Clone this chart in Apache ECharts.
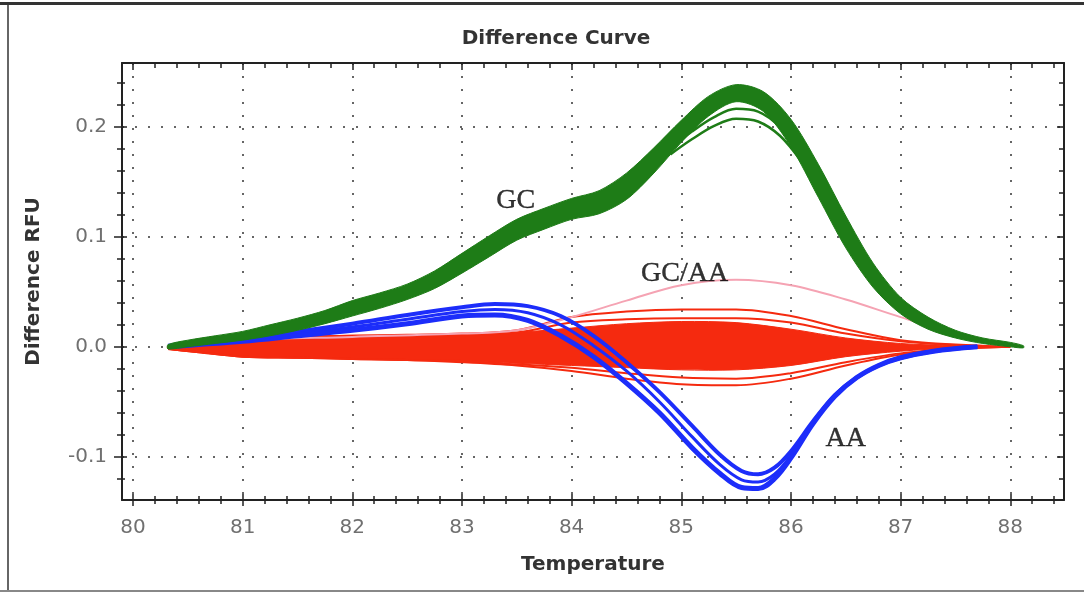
<!DOCTYPE html>
<html><head><meta charset="utf-8">
<script src="https://cdn.jsdelivr.net/npm/echarts@6/dist/echarts.min.js"></script>
<style>html,body{margin:0;padding:0;background:#fff}#c{width:1084px;height:594px}</style>
</head><body><div id="c"></div>
<script>
// ---- tick labels ----
const xTicks = [80, 81, 82, 83, 84, 85, 86, 87, 88];
const yTicks = [-0.1, 0.0, 0.1, 0.2];

// ---- GC (green) band: upper / lower envelope ----
const gcT     = [80.32, 80.5, 80.75, 81, 81.25, 81.5, 81.75, 82, 82.25, 82.5, 82.75, 83, 83.25, 83.5, 83.75, 84, 84.25, 84.5, 84.75, 85, 85.25, 85.5, 85.75, 86, 86.25, 86.5, 86.75, 87, 87.25, 87.5, 87.75, 88, 88.12];
const gcUpper = [0.002, 0.006, 0.010, 0.014, 0.020, 0.026, 0.033, 0.042, 0.049, 0.057, 0.069, 0.085, 0.101, 0.116, 0.126, 0.135, 0.142, 0.158, 0.181, 0.206, 0.228, 0.2385, 0.232, 0.207, 0.166, 0.119, 0.076, 0.045, 0.027, 0.015, 0.008, 0.004, 0.001];
const gcLower = [-0.002, 0.000, 0.003, 0.006, 0.010, 0.015, 0.021, 0.028, 0.035, 0.043, 0.053, 0.067, 0.082, 0.097, 0.107, 0.116, 0.121, 0.134, 0.158, 0.186, 0.210, 0.223, 0.214, 0.182, 0.136, 0.090, 0.054, 0.030, 0.016, 0.008, 0.003, 0.000, -0.001];
// two GC curves that separate below the band near the peak
const gcLowT  = [84.9, 85.1, 85.3, 85.5, 85.7, 85.9, 86.1, 86.3];
const gcLow1  = [0.180, 0.196, 0.209, 0.2165, 0.214, 0.200, 0.175, 0.143];
const gcLow2  = [0.175, 0.189, 0.201, 0.2075, 0.205, 0.192, 0.168, 0.137];

// ---- AA (blue) curves ----
const aaT   = [80.32, 80.6, 81, 81.5, 82, 82.5, 83, 83.3, 83.6, 83.9, 84.2, 84.5, 84.8, 85.1, 85.35, 85.55, 85.7, 85.85, 86, 86.2, 86.4, 86.6, 86.8, 87, 87.3, 87.7];
const aaTop = [0.001, 0.004, 0.008, 0.014, 0.021, 0.029, 0.036, 0.039, 0.037, 0.028, 0.010, -0.014, -0.041, -0.072, -0.098, -0.113, -0.116, -0.110, -0.095, -0.068, -0.044, -0.028, -0.017, -0.010, -0.004, 0.000];
const aaMid = [0.001, 0.003, 0.007, 0.012, 0.018, 0.025, 0.032, 0.034, 0.031, 0.020, 0.001, -0.022, -0.050, -0.082, -0.107, -0.121, -0.123, -0.116, -0.099, -0.070, -0.045, -0.028, -0.017, -0.010, -0.004, 0.000];
const aaBot = [0.000, 0.002, 0.005, 0.010, 0.015, 0.021, 0.028, 0.029, 0.024, 0.010, -0.009, -0.033, -0.060, -0.092, -0.115, -0.128, -0.129, -0.120, -0.101, -0.070, -0.045, -0.028, -0.017, -0.010, -0.004, 0.000];

// ---- GC/AA (red) fan ----
const redT      = [80.32, 80.6, 81, 81.5, 82, 82.5, 83, 83.5, 84, 84.5, 85, 85.5, 86, 86.5, 87, 87.5, 88];
const redCoreUp = [0.001, 0.004, 0.008, 0.009, 0.010, 0.010, 0.011, 0.013, 0.017, 0.021, 0.023, 0.022, 0.016, 0.008, 0.003, 0.001, 0.000];
const redCoreLo = [-0.002, -0.005, -0.009, -0.010, -0.011, -0.012, -0.013, -0.015, -0.017, -0.019, -0.021, -0.021, -0.017, -0.009, -0.004, -0.001, 0.000];
const redTop1   = [0.001, 0.004, 0.008, 0.009, 0.010, 0.011, 0.012, 0.015, 0.027, 0.032, 0.034, 0.034, 0.028, 0.016, 0.006, 0.002, 0.000];
const redTop2   = [0.001, 0.004, 0.008, 0.009, 0.010, 0.010, 0.011, 0.013, 0.022, 0.025, 0.026, 0.026, 0.022, 0.012, 0.005, 0.0015, 0.000];
const redBot1   = [-0.002, -0.005, -0.009, -0.010, -0.011, -0.012, -0.014, -0.017, -0.022, -0.029, -0.034, -0.035, -0.029, -0.017, -0.007, -0.002, 0.000];
const redBot2   = [-0.002, -0.005, -0.009, -0.010, -0.011, -0.012, -0.013, -0.016, -0.019, -0.024, -0.028, -0.029, -0.024, -0.014, -0.006, -0.002, 0.000];

// ---- single pink curve ----
const pinkT = [80.32, 81, 82, 83, 83.5, 84, 84.5, 85, 85.5, 86, 86.5, 87, 87.5, 88];
const pinkV = [0.000, 0.006, 0.009, 0.012, 0.015, 0.027, 0.042, 0.056, 0.061, 0.056, 0.043, 0.027, 0.012, 0.002];

// ---- annotations ----
const noteText = ['GC', 'GC/AA', 'AA'];
const noteT    = [83.49, 85.03, 86.5];
const noteV    = [0.133, 0.067, -0.084];

// ---------------------------------------------------------------
const X_MIN = 79.9, X_MAX = 88.49, Y_MIN = -0.1394, Y_MAX = 0.2582;
const GREEN = '#1e7c17', BLUE = '#1c2dfa', RED = '#f52a0f', PINK = '#f5a3b3';
const FONT = 'DejaVu Sans';

const xMinor = [];
for (let i = 0; i <= 43; i++) { const v = Math.round((80 + i * 0.2) * 10) / 10; if (i % 5 !== 0 && v < X_MAX) xMinor.push(v); }
const yMinor = [];
for (let i = -6; i <= 12; i++) { if (i % 5 !== 0) yMinor.push(Math.round(i * 2) / 100); }

const zip = (T, V) => T.map((t, i) => [t, V[i]]);

function baseAxis(dim, extra) {
  const a = {
    type: 'value', gridIndex: 0,
    min: dim === 'x' ? X_MIN : Y_MIN, max: dim === 'x' ? X_MAX : Y_MAX,
    axisLine: { show: false, onZero: false },
    axisTick: { show: false },
    axisLabel: { show: false },
    splitLine: { show: false }
  };
  return Object.assign(a, extra);
}
const tickStyle = { color: '#222', width: 1.5 };
const dotted = { color: '#666', width: 2, type: [2, 11] };

const xAxes = [
  baseAxis('x', {
    position: 'bottom', splitNumber: 9,
    axisLine: { show: true, onZero: false, lineStyle: { color: '#222', width: 2 } },
    axisLabel: { show: true, customValues: xTicks, margin: 18, fontFamily: FONT, fontSize: 20, color: '#707070', formatter: v => String(v) },
    splitLine: { show: true, lineStyle: dotted },
    name: 'Temperature', nameLocation: 'middle', nameGap: 55,
    nameTextStyle: { fontFamily: FONT, fontWeight: 'bold', fontSize: 20, color: '#333' }
  }),
  baseAxis('x', { position: 'bottom', offset: -6, axisTick: { show: true, customValues: xTicks, length: 12, lineStyle: tickStyle } }),
  baseAxis('x', { position: 'bottom', offset: -4, axisTick: { show: true, customValues: xMinor, length: 8, lineStyle: tickStyle } }),
  baseAxis('x', { position: 'top', axisLine: { show: true, onZero: false, lineStyle: { color: '#222', width: 2 } },
    axisTick: { show: true, inside: true, customValues: xTicks, length: 7, lineStyle: tickStyle } }),
  baseAxis('x', { position: 'top', axisTick: { show: true, inside: true, customValues: xMinor, length: 5, lineStyle: tickStyle } })
];
const yAxes = [
  baseAxis('y', {
    position: 'left', splitNumber: 4,
    axisLine: { show: true, onZero: false, lineStyle: { color: '#222', width: 2 } },
    axisLabel: { show: true, customValues: yTicks, margin: 15, fontFamily: FONT, fontSize: 20, color: '#707070', formatter: v => v.toFixed(1) },
    splitLine: { show: true, lineStyle: dotted },
    name: 'Difference RFU', nameLocation: 'middle', nameGap: 78,
    nameTextStyle: { fontFamily: FONT, fontWeight: 'bold', fontSize: 20, color: '#333' }
  }),
  baseAxis('y', { position: 'left', offset: -5, axisTick: { show: true, customValues: yTicks, length: 13, lineStyle: tickStyle } }),
  baseAxis('y', { position: 'left', offset: -3, axisTick: { show: true, customValues: yMinor, length: 8, lineStyle: tickStyle } }),
  baseAxis('y', { position: 'right', axisLine: { show: true, onZero: false, lineStyle: { color: '#222', width: 2 } },
    axisTick: { show: true, inside: true, customValues: yTicks, length: 7, lineStyle: tickStyle } }),
  baseAxis('y', { position: 'right', axisTick: { show: true, inside: true, customValues: yMinor, length: 5, lineStyle: tickStyle } })
];

function band(name, T, up, lo, color, z) {
  return {
    type: 'custom', name, xAxisIndex: 0, yAxisIndex: 0, z, silent: true, animation: false,
    data: [[T[0], up[0]]],
    renderItem(params, api) {
      const pts = [];
      for (let i = 0; i < T.length; i++) pts.push(api.coord([T[i], up[i]]));
      for (let i = T.length - 1; i >= 0; i--) pts.push(api.coord([T[i], lo[i]]));
      return { type: 'polygon', shape: { points: pts, smooth: 0.3 }, style: { fill: color, stroke: color, lineWidth: 1 } };
    }
  };
}
function curve(name, T, V, color, width, z) {
  return {
    type: 'line', name, xAxisIndex: 0, yAxisIndex: 0, data: zip(T, V),
    symbol: 'none', showSymbol: false, smooth: 0.35, z, silent: true, animation: false,
    lineStyle: { color, width }
  };
}

const series = [
  band('GC/AA core', redT, redCoreUp, redCoreLo, RED, 2),
  curve('GC/AA 1', redT, redTop1, RED, 2, 2),
  curve('GC/AA 2', redT, redTop2, RED, 2, 2),
  curve('GC/AA 3', redT, redBot1, RED, 2, 2),
  curve('GC/AA 4', redT, redBot2, RED, 2, 2),
  curve('GC/AA pink', pinkT, pinkV, PINK, 2, 3),
  curve('AA 1', aaT, aaTop, BLUE, 4, 4),
  curve('AA 2', aaT, aaMid, BLUE, 3, 4),
  curve('AA 3', aaT, aaBot, BLUE, 5, 4),
  curve('GC low 1', gcLowT, gcLow1, GREEN, 2.5, 5),
  curve('GC low 2', gcLowT, gcLow2, GREEN, 2.5, 5),
  band('GC', gcT, gcUpper, gcLower, GREEN, 6),
  {
    type: 'scatter', name: 'labels', xAxisIndex: 0, yAxisIndex: 0, z: 10, silent: true, animation: false,
    symbolSize: 0,
    data: noteT.map((t, i) => ({ value: [t, noteV[i]], label: { formatter: noteText[i] } })),
    label: { show: true, position: 'inside', fontFamily: 'Liberation Serif', fontSize: 28, color: '#000',
      textBorderColor: '#000', textBorderWidth: 0.4 }
  }
];

const chart = echarts.init(document.getElementById('c'), null, { renderer: 'canvas' });
chart.setOption({
  animation: false,
  backgroundColor: '#fff',
  title: {
    text: 'Difference Curve', left: 551, top: 24, textAlign: 'center',
    textStyle: { fontFamily: FONT, fontWeight: 'bold', fontSize: 20, color: '#333' }
  },
  grid: { left: 122, top: 63, width: 942, height: 437, containLabel: false },
  xAxis: xAxes,
  yAxis: yAxes,
  series,
  graphic: [
    { type: 'line', silent: true, shape: { x1: 8, y1: 5, x2: 8, y2: 591 }, style: { stroke: '#666', lineWidth: 2 } },
    { type: 'line', silent: true, shape: { x1: 0, y1: 591, x2: 1084, y2: 591 }, style: { stroke: '#888', lineWidth: 2 } },
    { type: 'line', silent: true, shape: { x1: 0, y1: 3.5, x2: 1084, y2: 3.5 }, style: { stroke: '#333', lineWidth: 3 } }
  ]
});
</script>
</body></html>
